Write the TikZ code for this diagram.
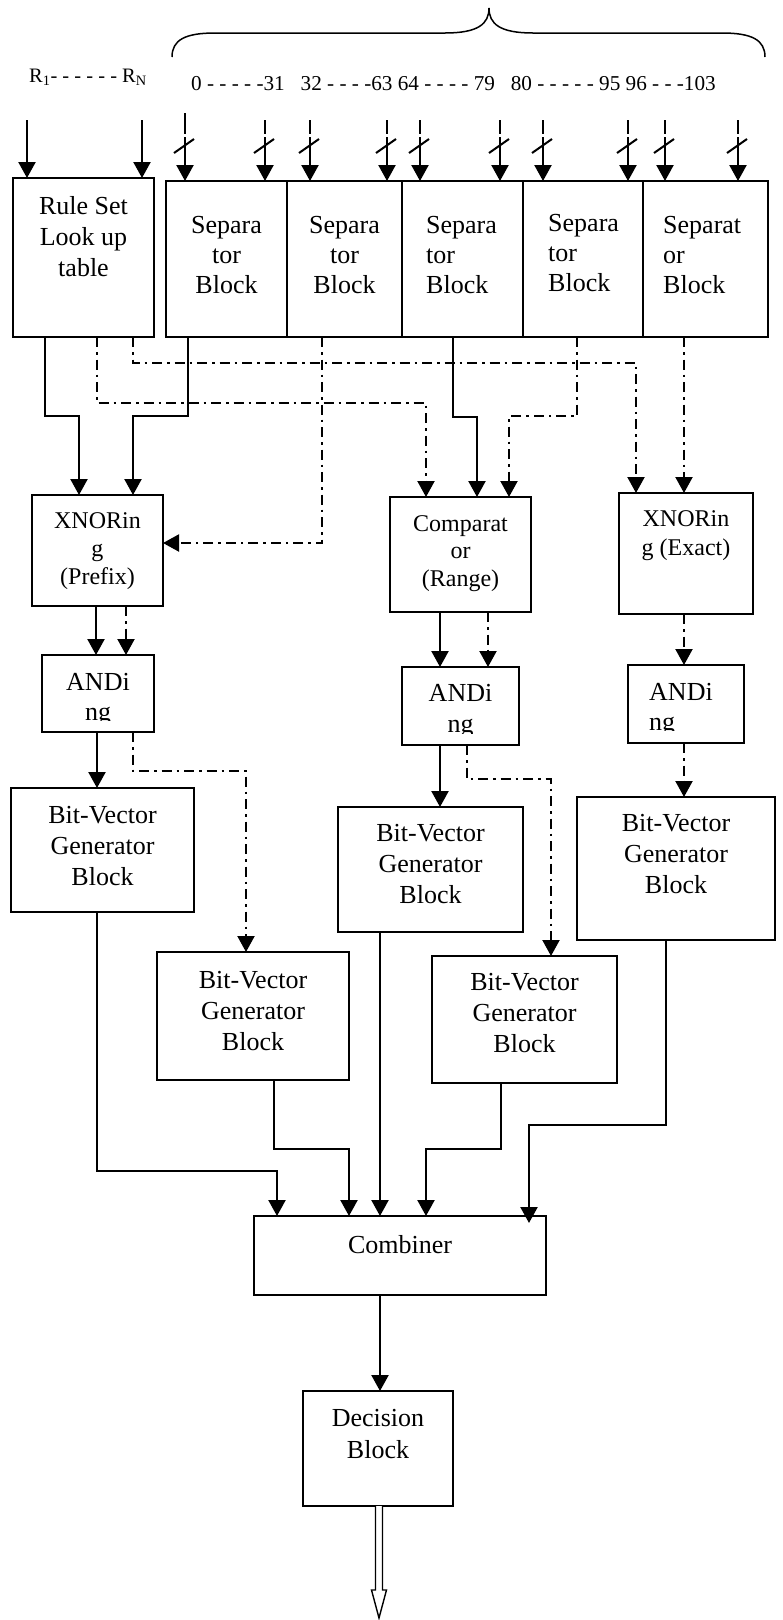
\documentclass[tikz,border=0pt]{standalone}
\usepackage{fontspec}
\setmainfont{Liberation Serif}
\usetikzlibrary{arrows.meta}
\newcommand\blk[5]{\node[box, minimum width=#4pt, minimum height=#5pt] (#1) at (#2,#3) {};}
\newcommand\busarrow[3]{\draw[line width=2.3pt] (#1,#3) -- (#1,134); \draw[solidarr] (#1,137) -- (#2.north -| #1,0); \draw[line width=2pt] (#1-11,153) -- (#1+9,139);}
\begin{document}
\begin{tikzpicture}[x=1pt,y=-1pt,
  box/.style={draw, line width=1.9pt, inner sep=0pt, outer sep=0pt, anchor=north west},
  bt/.style={inner sep=0pt, anchor=north, align=center, font=\fontsize{26}{31}\selectfont},
  btl/.style={bt, anchor=north west, align=left},
  st/.style={bt, font=\fontsize{24}{28}\selectfont},
  solidarr/.style={line width=2.3pt, -{Triangle[width=17pt,length=16pt]}},
  dasharr/.style={line width=2.1pt, dash pattern=on 10pt off 5pt on 2.5pt off 5pt, -{Triangle[width=17pt,length=16pt]}}
]
\useasboundingbox (0,0) rectangle (782,1620);

% brace and labels
\draw[line width=1.5pt] (172,57) .. controls (172,40) and (185,33) .. (215,33) -- (445,33) .. controls (478,33) and (489,24) .. (489,8) .. controls (489,24) and (500,33) .. (533,33) -- (722,33) .. controls (752,33) and (765,40) .. (765,57);
\node[anchor=west, inner sep=0pt, font=\fontsize{20.5}{24}\selectfont] (rlab) at (29,77) {R\textsubscript{1}- - - - - - R\textsubscript{N}};
\node[anchor=west, inner sep=0pt, font=\fontsize{21.2}{24}\selectfont] (bits) at (191,84) {0 - - - - -31\ \ \ 32 - - - -63 64 - - - - 79\ \ \ 80 - - - - - 95 96 - - -103};

% boxes
\blk{rs}{13}{178}{141}{159}
\blk{sep1}{166}{181}{121}{156}
\blk{sep2}{287}{181}{115}{156}
\blk{sep3}{402}{181}{121}{156}
\blk{sep4}{523}{181}{120}{156}
\blk{sep5}{643}{181}{125}{156}
\blk{xp}{32}{495}{131}{111}
\blk{cmp}{390}{497}{141}{115}
\blk{xe}{619}{493}{134}{121}
\blk{ap}{42}{655}{112}{77}
\blk{ac}{402}{667}{117}{78}
\blk{ae}{628}{665}{116}{78}
\blk{bv1}{11}{788}{183}{124}
\blk{bv2}{157}{952}{192}{128}
\blk{bv3}{338}{807}{185}{125}
\blk{bv4}{432}{956}{185}{127}
\blk{bv5}{577}{797}{198}{143}
\blk{comb}{254}{1216}{292}{79}
\blk{dec}{303}{1391}{150}{115}

% texts
\node[bt] (rst) at (83.5,196) {Rule Set\\Look up\\table};
\node[bt, font=\fontsize{26}{30}\selectfont] (s1t) at (226.5,216) {Separa\\tor\\Block};
\node[bt, font=\fontsize{26}{30}\selectfont] (s2t) at (344.5,216) {Separa\\tor\\Block};
\node[btl, font=\fontsize{26}{30}\selectfont] (s3t) at (426,216) {Separa\\tor\\Block};
\node[btl, font=\fontsize{26}{30}\selectfont] (s4t) at (548,214) {Separa\\tor\\Block};
\node[btl, font=\fontsize{26}{30}\selectfont] (s5t) at (663,216) {Separat\\or\\Block};
\node[st] (xpt) at (97.5,512) {XNORin\\g\\(Prefix)};
\node[st, font=\fontsize{24}{27.5}\selectfont] (cmpt) at (460.5,515) {Comparat\\or\\(Range)};
\node[st, font=\fontsize{24}{29}\selectfont] (xet) at (686,510) {XNORin\\g (Exact)};
\begin{scope}
\clip (42,655) rectangle (154,720);
\node[bt, font=\fontsize{26}{30}\selectfont] (apt) at (98,673) {ANDi\\ng};
\end{scope}
\begin{scope}
\clip (402,667) rectangle (519,733);
\node[bt] (act) at (460.5,684) {ANDi\\ng};
\end{scope}
\begin{scope}
\clip (628,665) rectangle (744,730);
\node[btl, font=\fontsize{26}{30}\selectfont] (aet) at (649,683) {ANDi\\ng};
\end{scope}
\node[bt] (bv1t) at (102.5,806) {Bit-Vector\\Generator\\Block};
\node[bt] (bv2t) at (253,971) {Bit-Vector\\Generator\\Block};
\node[bt] (bv3t) at (430.5,824) {Bit-Vector\\Generator\\Block};
\node[bt] (bv4t) at (524.5,973) {Bit-Vector\\Generator\\Block};
\node[bt] (bv5t) at (676,814) {Bit-Vector\\Generator\\Block};
\node[bt] (combt) at (400,1235) {Combiner};
\node[bt, font=\fontsize{26}{32}\selectfont] (dect) at (378,1409) {Decision\\Block};

% inputs
\coordinate (r1) at (27,120);
\coordinate (rn) at (142,120);
\draw[solidarr] (r1) -- (rs.north -| r1);
\draw[solidarr] (rn) -- (rs.north -| rn);
\busarrow{185}{sep1}{113}
\busarrow{265}{sep1}{120}
\busarrow{310}{sep2}{120}
\busarrow{387}{sep2}{120}
\busarrow{420}{sep3}{120}
\busarrow{500}{sep3}{120}
\busarrow{543}{sep4}{120}
\busarrow{628}{sep4}{120}
\busarrow{665}{sep5}{120}
\busarrow{738}{sep5}{120}

% first stage connections
\draw[solidarr] (rs.south -| 45,0) -- (45,416) -- (79,416) -- (xp.north -| 79,0);
\draw[solidarr] (sep1.south -| 188,0) -- (188,416) -- (133,416) -- (xp.north -| 133,0);
\draw[dasharr] (rs.south -| 97,0) -- (97,403) -- (426,403) -- (cmp.north -| 426,0);
\draw[dasharr] (rs.south -| 133,0) -- (133,363) -- (636,363) -- (xe.north -| 636,0);
\draw[dasharr] (sep2.south -| 322,0) -- (322,543) -- (xp.east |- 0,543);
\draw[solidarr] (sep3.south -| 453,0) -- (453,417) -- (477,417) -- (cmp.north -| 477,0);
\draw[dasharr] (sep4.south -| 577,0) -- (577,416) -- (509,416) -- (cmp.north -| 509,0);
\draw[dasharr] (sep5.south -| 684,0) -- (xe.north -| 684,0);

% second stage
\draw[solidarr] (xp.south -| 96,0) -- (ap.north -| 96,0);
\draw[dasharr] (xp.south -| 126,0) -- (ap.north -| 126,0);
\draw[solidarr] (cmp.south -| 440,0) -- (ac.north -| 440,0);
\draw[dasharr] (cmp.south -| 488,0) -- (ac.north -| 488,0);
\draw[dasharr] (xe.south -| 684,0) -- (ae.north -| 684,0);

% third stage
\draw[solidarr] (ap.south -| 97,0) -- (bv1.north -| 97,0);
\draw[dasharr] (ap.south -| 133,0) -- (133,771) -- (246,771) -- (bv2.north -| 246,0);
\draw[solidarr] (ac.south -| 440,0) -- (bv3.north -| 440,0);
\draw[dasharr] (ac.south -| 467,0) -- (467,779) -- (551,779) -- (bv4.north -| 551,0);
\draw[dasharr] (ae.south -| 684,0) -- (bv5.north -| 684,0);

% to combiner
\draw[solidarr] (bv1.south -| 97,0) -- (97,1171) -- (277,1171) -- (comb.north -| 277,0);
\draw[solidarr] (bv2.south -| 274,0) -- (274,1149) -- (349,1149) -- (comb.north -| 349,0);
\draw[solidarr] (bv3.south -| 380,0) -- (comb.north -| 380,0);
\draw[solidarr] (bv4.south -| 501,0) -- (501,1149) -- (426,1149) -- (comb.north -| 426,0);
\draw[solidarr, shorten >=-7pt] (bv5.south -| 666,0) -- (666,1125) -- (529,1125) -- (comb.north -| 529,0);
\draw[solidarr] (comb.south -| 380,0) -- (dec.north -| 380,0);

% output
\coordinate (out) at (379,1618);
\draw[line width=1.4pt, fill=white] (dec.south -| 375.5,0) -- (375.5,1590) -- (371.5,1590) -- (out) -- (386.5,1590) -- (382.5,1590) -- (dec.south -| 382.5,0);
\end{tikzpicture}
\end{document}
